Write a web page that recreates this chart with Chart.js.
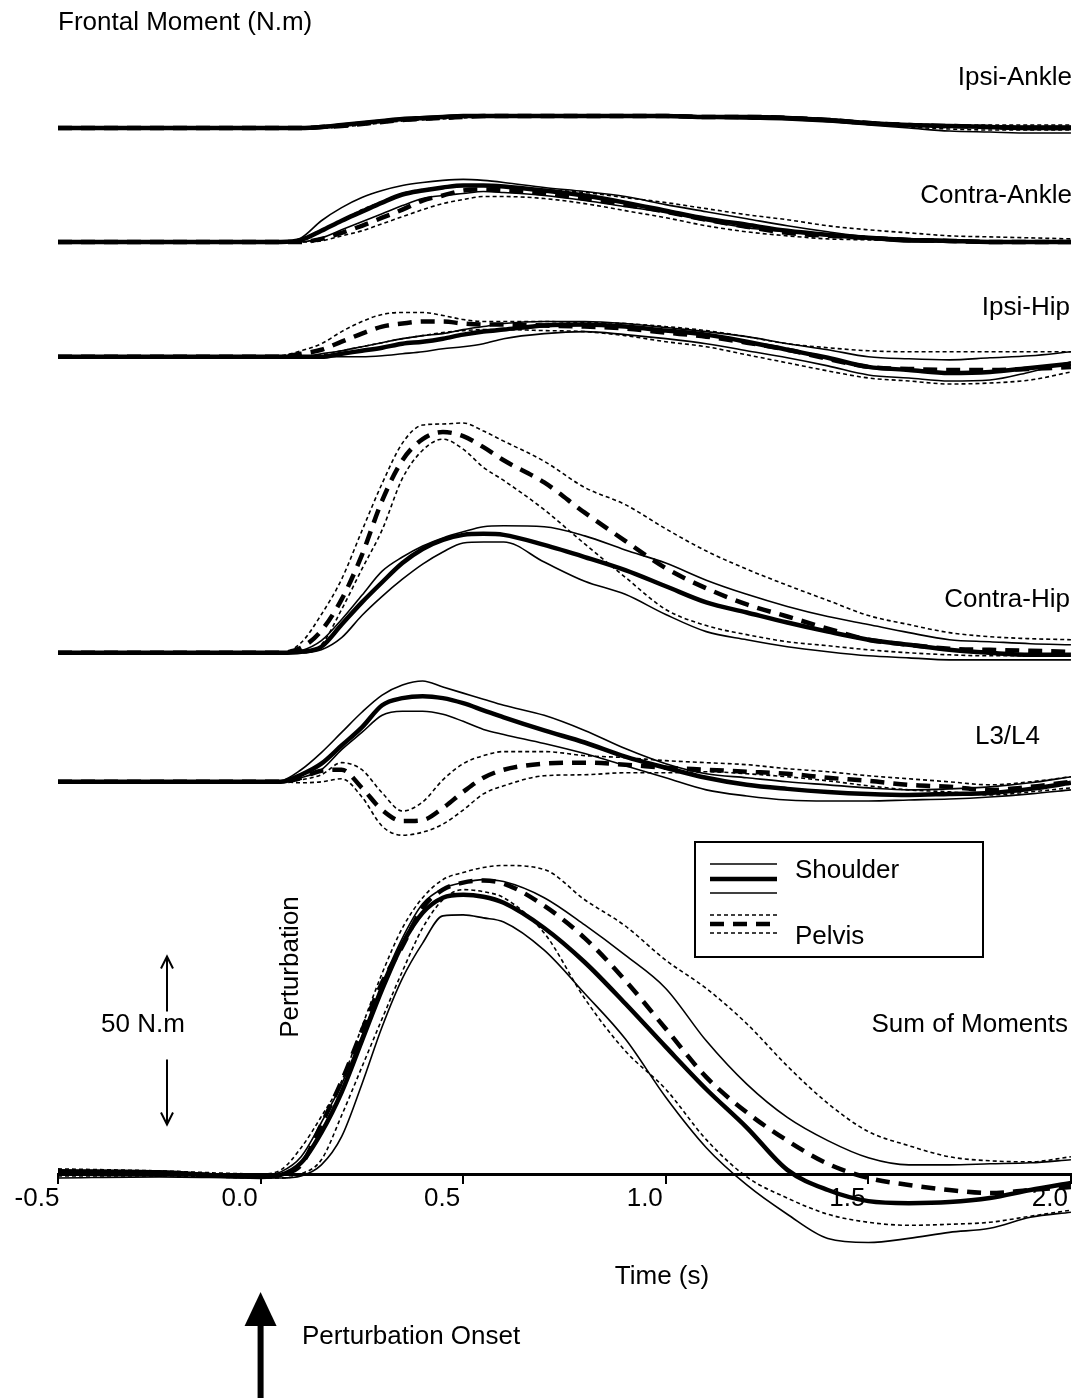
<!DOCTYPE html>
<html>
<head>
<meta charset="utf-8">
<title>Frontal Moment</title>
<script src="https://cdn.jsdelivr.net/npm/chart.js@4.4.0/dist/chart.umd.min.js"></script>
<style>
  html, body { margin: 0; padding: 0; background: #fff; }
  canvas { display: block; }
</style>
</head>
<body>
<canvas id="frontalChart" width="1089" height="1399"></canvas>
<script>
// time axis (s)
const time = [-0.5, -0.25, 0, 0.05, 0.1, 0.15, 0.2, 0.25, 0.3, 0.35, 0.4, 0.45, 0.5, 0.55, 0.6,
  0.7, 0.8, 0.9, 1.0, 1.1, 1.2, 1.3, 1.4, 1.5, 1.6, 1.7, 1.8, 1.9, 2.0];
const xTicks = [-0.5, 0.0, 0.5, 1.0, 1.5, 2.0];

const traceNames = ['Ipsi-Ankle', 'Contra-Ankle', 'Ipsi-Hip', 'Contra-Hip', 'L3/L4', 'Sum of Moments'];
// vertical offset of each trace baseline (N.m)
const traceOffsets = [311.6, 277.7, 243.5, 155.4, 117.0, 0];

// moments (N.m): mean and +/- SD for shoulder and pelvis perturbations
const ipsiAnkleShoulderMean = [0,0,0,0,0,0.3,0.9,1.5,2.1,2.7,3,3.3,3.6,3.6,3.6,3.6,3.6,3.6,3.6,3.3,3.3,3,2.4,1.5,0.9,0.6,0.3,0,0];
const ipsiAnkleShoulderUpper = [0.3,0.3,0.3,0.3,0.3,0.6,1.2,1.8,2.4,3,3.3,3.6,3.9,3.9,3.9,3.9,3.9,3.9,3.9,3.6,3.6,3.3,2.7,1.8,1.2,0.9,0.6,0.6,0.6];
const ipsiAnkleShoulderLower = [-0.3,-0.3,-0.3,-0.3,-0.3,0,0.6,1.2,1.8,2.4,2.7,3,3.3,3.3,3.3,3.3,3.3,3.3,3.3,3,2.7,2.4,1.8,0.9,0,-0.9,-1.2,-1.5,-1.5];
const ipsiAnklePelvisMean = [0,0,0,0,0,0.3,0.6,1.2,1.8,2.4,2.7,3,3.3,3.6,3.6,3.6,3.6,3.6,3.6,3.3,3.3,3,2.4,1.5,0.9,0.6,0.3,0,0];
const ipsiAnklePelvisUpper = [0,0,0,0,0,0.3,0.9,1.5,2.1,2.7,3,3.3,3.6,3.6,3.6,3.6,3.6,3.6,3.6,3.6,3.6,3.3,2.7,1.8,1.2,0.9,0.9,0.9,0.9];
const ipsiAnklePelvisLower = [0,0,0,0,0,0,0.3,0.9,1.5,2.1,2.4,2.7,3,3.3,3.3,3.3,3.3,3.3,3.3,3,3,2.7,2.1,1.2,0.3,-0.3,-0.6,-0.6,-0.6];

const contraAnkleShoulderMean = [0,0,0,0,0.6,3.3,6.3,9,11.7,14.1,15.3,16.2,16.8,16.8,16.5,15.3,13.8,11.7,9.3,6.9,5.1,3.3,2.1,1.2,0.6,0.3,0,0,0];
const contraAnkleShoulderUpper = [0,0,0,0,1.2,6.3,10.2,13.2,15.3,16.8,17.7,18.3,18.6,18.3,17.7,16.2,15,13.5,11.1,9,6.9,4.8,3,1.5,0.9,0.6,0.3,0.3,0.3];
const contraAnkleShoulderLower = [0,0,0,0,0,1.2,3.6,6,8.4,10.8,12.9,13.8,14.4,15,14.7,13.8,12.3,10.5,8.7,6.3,4.2,3,1.8,0.9,0,0,0,0,0];
const contraAnklePelvisMean = [0,0,0,0,0,0.9,2.7,4.8,7.2,9.6,12.3,13.8,15.3,15.6,15.3,14.4,12.9,11.1,9,6.6,4.5,2.7,1.8,1.2,0.6,0.3,0,0,0];
const contraAnklePelvisUpper = [0,0,0,0,0.9,3.6,6.3,9.6,12,14.4,15.6,16.2,16.8,16.8,16.5,15.6,14.7,13.2,11.7,9.9,8.1,6.6,4.8,3.6,2.7,1.8,1.5,1.2,0.9];
const contraAnklePelvisLower = [0,0,0,0,0,0.3,1.8,3.3,5.4,7.5,9.6,11.4,12.6,13.5,13.5,12.9,11.4,9.3,7.2,4.8,3,1.8,0.9,0.6,0.3,0,0,0,0];

const ipsiHipShoulderMean = [0,0,0,0,0,0,0.9,1.8,2.7,3.9,4.5,5.4,6.6,7.5,8.1,9.3,9.6,9,7.8,6.6,4.5,2.1,-0.3,-3,-3.9,-4.8,-4.5,-3.3,-2.1];
const ipsiHipShoulderUpper = [0,0,0,0,0,0.9,1.8,3,4.2,5.4,6.3,6.9,8.1,9,9.9,10.5,10.5,9.9,8.7,7.5,6,3.9,2.1,0,-0.6,-0.9,-0.3,0.3,1.5];
const ipsiHipShoulderLower = [0,0,0,0,0,0,0,0,0.3,0.9,1.5,2.4,3,3.9,5.4,6.9,7.5,6.6,5.4,3.9,1.8,-0.3,-2.7,-5.4,-6.3,-7.2,-6.9,-4.5,-1.5];
const ipsiHipPelvisMean = [0,0,0,0,0.9,2.1,4.5,6.9,9,9.9,10.5,10.5,9.9,9.6,9.6,9.3,9,8.4,7.2,6,4.2,2.1,-0.6,-3,-3.6,-3.9,-3.9,-3.6,-3];
const ipsiHipPelvisUpper = [0,0,0,0.3,1.8,3.9,7.5,10.5,12.6,13.2,13.2,12.3,11.1,10.5,10.5,10.5,10.2,9.9,9,7.8,6,3.9,2.7,1.8,1.5,1.5,1.5,1.5,1.5];
const ipsiHipPelvisLower = [0,0,0,0,0,0.6,1.8,3,4.2,5.4,6.3,7.2,7.8,8.1,8.1,7.8,7.5,6.3,4.5,3,0.6,-1.8,-4.2,-6.3,-7.2,-8.1,-7.8,-6.9,-4.5];

const contraHipShoulderMean = [0,0,0,0,0.3,1.8,8.4,15,21,26.7,30.9,33.6,35.1,35.4,35.1,32.1,28.5,24.6,19.8,15,12,9,6.3,3.9,2.4,0.9,0,-0.6,-0.6];
const contraHipShoulderUpper = [0,0,0,0,0.6,3.6,9.9,17.1,24.3,28.5,31.8,34.2,36,37.5,37.8,37.5,34.8,30.6,26.7,21.6,17.4,13.8,10.8,8.4,6,3.9,3.3,2.7,2.4];
const contraHipShoulderLower = [0,0,0,0,0,0.9,4.5,11.1,16.8,21.9,26.4,30,32.7,33,33,27,21.3,17.4,11.4,6.3,3.9,1.8,0.3,-0.9,-1.5,-2.1,-2.1,-2.1,-2.1];
const contraHipPelvisMean = [0,0,0,0,1.5,6.6,15.9,29.1,45.3,57.3,63.6,65.7,64.5,61.2,57.3,50.7,41.7,33.3,25.2,19.2,14.4,10.8,7.2,3.9,2.4,1.2,0.9,0.6,0.3];
const contraHipPelvisUpper = [0,0,0,0,3,11.4,21.9,36.3,50.4,62.4,67.8,68.1,68.4,66,63,57,49.2,44.1,36.9,30.3,24.9,20.1,15.6,11.1,8.4,6,4.8,4.2,3.9];
const contraHipPelvisLower = [0,0,0,0,0,2.4,12.9,24.9,36.6,51.9,60.3,63.6,60.6,55.2,51.3,42.6,32.4,22.5,12.9,8.1,5.4,3.3,2.1,0.9,0,-0.6,-0.9,-0.9,-0.9];

const l3l4ShoulderMean = [0,0,0,0,2.1,5.4,10.8,16.2,22.8,24.9,25.5,24.9,23.4,21.3,19.2,15.3,11.7,7.5,4.2,1.2,-0.9,-2.1,-3,-3.6,-3.9,-3.6,-3.3,-2.1,-0.3];
const l3l4ShoulderUpper = [0,0,0,0.3,3.6,8.7,14.7,20.7,25.8,28.8,30,28.2,26.4,24.6,22.8,19.8,15.3,9.9,5.4,2.4,1.2,0,-0.9,-1.8,-2.4,-2.1,-1.5,-0.3,1.5];
const l3l4ShoulderLower = [0,0,0,0,1.2,3.6,9.6,14.7,19.8,21,21,20.1,18,15.6,14.1,11.4,8.4,4.8,1.2,-2.4,-4.2,-5.4,-5.7,-5.7,-5.4,-5.1,-4.5,-3.6,-2.4];
const l3l4PelvisMean = [0,0,0,0,1.2,3.3,3.6,-1.8,-8.4,-11.7,-11.4,-7.8,-3,1.2,3.6,5.4,5.7,5.1,4.2,3.6,3,2.4,1.2,0.3,-0.9,-1.5,-2.4,-1.5,0];
const l3l4PelvisUpper = [0,0,0,0,0.6,2.1,5.7,3.6,-3.3,-8.7,-6,0.6,5.4,7.8,9,9,7.8,7.2,6.3,5.7,5.1,3.9,3,1.8,0.9,0,-0.9,0,1.5];
const l3l4PelvisLower = [0,0,0,0,-0.3,0,0.9,-4.5,-13.2,-15.9,-15,-12.6,-8.4,-3.6,-1.2,1.8,2.1,2.7,2.7,3,2.4,1.5,0.3,-1.2,-2.4,-3,-3.9,-3,-1.8];

const sumShoulderMean = [0.9,0.6,-0.6,0,3.6,12.6,24.6,39.9,55.2,68.7,78,82.5,83.4,82.8,81,73.5,63.3,51,38.1,25.5,14.1,1.5,-4.5,-7.8,-8.4,-8.1,-6.9,-4.5,-2.4];
const sumShoulderUpper = [1.5,1.2,-0.3,0.9,5.4,15.6,27,41.4,57,70.5,80.7,85.2,87,87.9,87.3,82.5,74.4,65.4,55.5,39.9,27,17.1,10.2,5.1,3,3,3.3,3.6,4.5];
const sumShoulderLower = [-0.9,-0.6,-0.9,-0.9,-0.3,3,11.4,27,44.1,58.5,69,77.1,77.4,76.5,75.3,66.9,54,40.5,23.1,8.1,-3,-11.7,-18.9,-20.1,-18.9,-17.1,-15.9,-12.6,-11.1];
const sumPelvisMean = [0.6,0.3,-0.3,0.3,3,15,27.9,42.9,57.3,68.1,79.5,84.9,87,87.6,86.7,80.1,70.5,57.9,43.5,29.1,18.6,10.2,3.3,-0.9,-3,-4.5,-5.4,-4.5,-3.6];
const sumPelvisUpper = [1.8,1.2,0.3,1.5,8.1,17.4,27.9,44.1,60,73.5,82.5,87.9,90,91.5,92.1,90.9,81.9,74.1,63.9,55.5,45,32.4,21.3,12.9,8.7,5.4,4.2,3.9,5.4];
const sumPelvisLower = [-0.3,-0.3,-0.9,-0.9,0.3,4.5,17.7,32.1,46.5,60.6,73.5,81.9,84.9,84.3,82.5,72,52.5,36.9,25.5,10.5,-0.6,-6.9,-11.7,-14.1,-15,-14.7,-14.1,-12.3,-10.5];

const scaleBarSize = 50;   // N.m
const scaleBarStart = 15;  // N.m above the sum baseline

const traces = [
  { shoulder: [ipsiAnkleShoulderMean, ipsiAnkleShoulderUpper, ipsiAnkleShoulderLower],
    pelvis: [ipsiAnklePelvisMean, ipsiAnklePelvisUpper, ipsiAnklePelvisLower] },
  { shoulder: [contraAnkleShoulderMean, contraAnkleShoulderUpper, contraAnkleShoulderLower],
    pelvis: [contraAnklePelvisMean, contraAnklePelvisUpper, contraAnklePelvisLower] },
  { shoulder: [ipsiHipShoulderMean, ipsiHipShoulderUpper, ipsiHipShoulderLower],
    pelvis: [ipsiHipPelvisMean, ipsiHipPelvisUpper, ipsiHipPelvisLower] },
  { shoulder: [contraHipShoulderMean, contraHipShoulderUpper, contraHipShoulderLower],
    pelvis: [contraHipPelvisMean, contraHipPelvisUpper, contraHipPelvisLower] },
  { shoulder: [l3l4ShoulderMean, l3l4ShoulderUpper, l3l4ShoulderLower],
    pelvis: [l3l4PelvisMean, l3l4PelvisUpper, l3l4PelvisLower] },
  { shoulder: [sumShoulderMean, sumShoulderUpper, sumShoulderLower],
    pelvis: [sumPelvisMean, sumPelvisUpper, sumPelvisLower] }
];

const FONT = '"Liberation Sans", Arial, sans-serif';
const TEXT = '26px ' + FONT;
const THICK = 4.5;
const THIN = 1.6;
const DASH = [14, 9];
const DOT = [4, 3];

function toPoints(values, offset) {
  return values.map((v, i) => ({ x: time[i], y: v + offset }));
}

function buildDatasets() {
  const thick = [];
  const thin = [];
  traces.forEach((tr, i) => {
    const off = traceOffsets[i];
    thick.push(line(traceNames[i] + ' shoulder', toPoints(tr.shoulder[0], off), THICK, []));
    thick.push(line(traceNames[i] + ' pelvis', toPoints(tr.pelvis[0], off), THICK, DASH));
    thin.push(line(traceNames[i] + ' shoulder +SD', toPoints(tr.shoulder[1], off), THIN, []));
    thin.push(line(traceNames[i] + ' shoulder -SD', toPoints(tr.shoulder[2], off), THIN, []));
    thin.push(line(traceNames[i] + ' pelvis +SD', toPoints(tr.pelvis[1], off), THIN, DOT));
    thin.push(line(traceNames[i] + ' pelvis -SD', toPoints(tr.pelvis[2], off), THIN, DOT));
  });
  // first datasets are painted last, so thick means stay on top
  return thick.concat(thin);
}

function line(label, data, width, dash) {
  return {
    label,
    data,
    borderColor: '#000',
    borderWidth: width,
    borderDash: dash,
    pointRadius: 0,
    fill: false,
    cubicInterpolationMode: 'monotone'
  };
}

function arrowHead(ctx, x, y, dir) {
  ctx.beginPath();
  ctx.moveTo(x - 6, y - dir * 12);
  ctx.lineTo(x, y);
  ctx.lineTo(x + 6, y - dir * 12);
  ctx.stroke();
}

const annotations = {
  id: 'annotations',
  afterDraw(chart) {
    const { ctx } = chart;
    const yScale = chart.scales.y;
    ctx.save();
    ctx.fillStyle = '#000';
    ctx.strokeStyle = '#000';
    ctx.textBaseline = 'middle';

    ctx.font = TEXT;
    ctx.textAlign = 'left';
    ctx.fillText('Frontal Moment (N.m)', 58, 23);

    ctx.textAlign = 'right';
    const labelPos = [[1072, 78], [1072, 196], [1070, 308], [1070, 600], [1040, 737], [1068, 1025]];
    traceNames.forEach((name, i) => ctx.fillText(name, labelPos[i][0], labelPos[i][1]));

    ctx.textAlign = 'center';
    ctx.fillText('Time (s)', 662, 1277);
    ctx.fillText('50 N.m', 143, 1025);

    // scale bar for 50 N.m
    const top = yScale.getPixelForValue(scaleBarStart + scaleBarSize);
    const bottom = yScale.getPixelForValue(scaleBarStart);
    ctx.lineWidth = 2;
    ctx.beginPath();
    ctx.moveTo(167, top); ctx.lineTo(167, top + 55);
    ctx.moveTo(167, bottom); ctx.lineTo(167, bottom - 65);
    ctx.stroke();
    arrowHead(ctx, 167, top, -1);
    arrowHead(ctx, 167, bottom, 1);

    // rotated "Perturbation"
    ctx.save();
    ctx.translate(291, 967);
    ctx.rotate(-Math.PI / 2);
    ctx.fillText('Perturbation', 0, 0);
    ctx.restore();

    // onset arrow
    const x0 = chart.scales.x.getPixelForValue(0);
    ctx.fillRect(x0 - 3, 1322, 6, 76);
    ctx.beginPath();
    ctx.moveTo(x0, 1292);
    ctx.lineTo(x0 - 16, 1326);
    ctx.lineTo(x0 + 16, 1326);
    ctx.closePath();
    ctx.fill();
    ctx.textAlign = 'left';
    ctx.fillText('Perturbation Onset', 302, 1337);

    // legend
    ctx.lineWidth = 2;
    ctx.setLineDash([]);
    ctx.strokeRect(695, 842, 288, 115);
    const legendLines = [
      [864, THIN, []], [879, THICK, []], [893, THIN, []],
      [915, THIN, DOT], [924, THICK, DASH], [933, THIN, DOT]
    ];
    legendLines.forEach(([ly, w, d]) => {
      ctx.lineWidth = w;
      ctx.setLineDash(d);
      ctx.beginPath();
      ctx.moveTo(710, ly);
      ctx.lineTo(777, ly);
      ctx.stroke();
    });
    ctx.setLineDash([]);
    ctx.fillText('Shoulder', 795, 871);
    ctx.fillText('Pelvis', 795, 937);
    ctx.restore();
  }
};

new Chart(document.getElementById('frontalChart'), {
  type: 'line',
  data: { datasets: buildDatasets() },
  options: {
    responsive: false,
    animation: false,
    layout: { padding: { left: 58, right: 11, top: 0, bottom: 0 } },
    plugins: { legend: { display: false }, tooltip: { enabled: false } },
    scales: {
      x: {
        type: 'linear',
        min: -0.5,
        max: 2.0,
        position: { y: 0 },
        afterBuildTicks: axis => { axis.ticks = xTicks.map(v => ({ value: v })); },
        ticks: {
          color: '#000',
          font: { family: FONT, size: 26 },
          labelOffset: -21,
          padding: 0,
          maxRotation: 0,
          callback: v => v.toFixed(1)
        },
        grid: { display: true, drawOnChartArea: false, drawTicks: true, tickLength: 8, color: '#000', lineWidth: 2 },
        border: { display: true, color: '#000', width: 3 }
      },
      y: { display: false, min: -66.7, max: 349.7 }
    }
  },
  plugins: [annotations]
});
</script>
</body>
</html>
